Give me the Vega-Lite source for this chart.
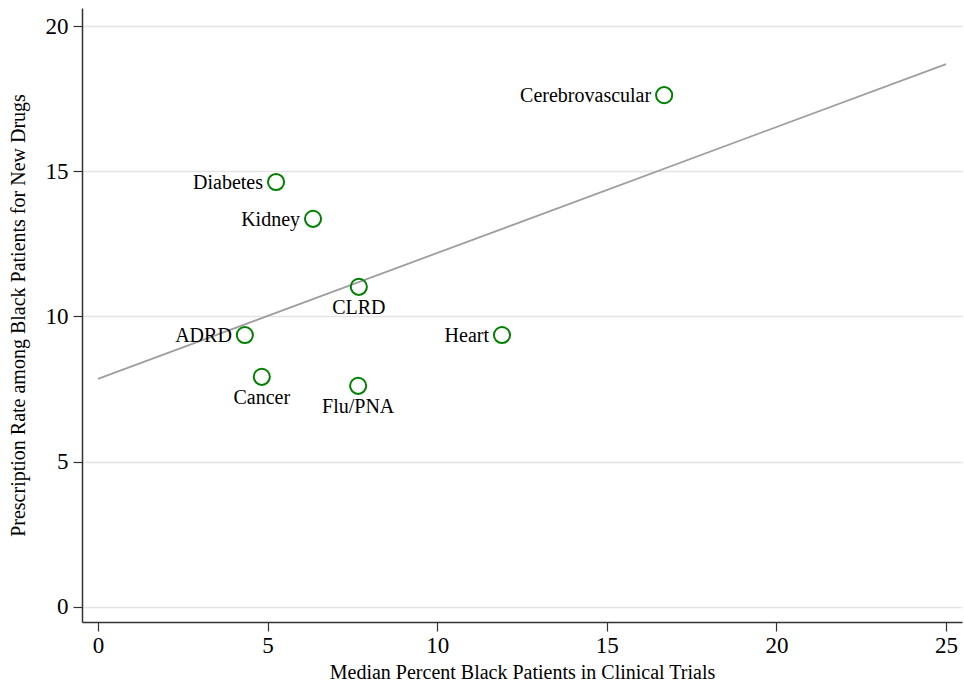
{
  "$schema": "https://vega.github.io/schema/vega-lite/v6.json",
  "width": 880,
  "height": 614,
  "autosize": {"type": "none"},
  "padding": {"left": 82, "top": 8, "right": 2, "bottom": 64},
  "background": "white",
  "config": {
    "view": {"stroke": null},
    "font": "Liberation Serif",
    "axis": {
      "labelFont": "Liberation Serif",
      "titleFont": "Liberation Serif",
      "labelFontSize": 23,
      "titleFontSize": 20,
      "titleFontWeight": "normal",
      "labelColor": "black",
      "titleColor": "black",
      "domainColor": "#333333",
      "tickColor": "#333333",
      "tickSize": 9,
      "domainWidth": 1.5,
      "tickWidth": 1.2,
      "gridColor": "#e4e4e4",
      "gridWidth": 1.5
    }
  },
  "datasets": {
    "pts": [
      {"disease": "Cerebrovascular", "pct": 16.69, "rate": 17.62, "pos": "left"},
      {"disease": "Diabetes", "pct": 5.25, "rate": 14.63, "pos": "left"},
      {"disease": "Kidney", "pct": 6.34, "rate": 13.36, "pos": "left"},
      {"disease": "CLRD", "pct": 7.69, "rate": 11.02, "pos": "below"},
      {"disease": "ADRD", "pct": 4.33, "rate": 9.36, "pos": "left"},
      {"disease": "Heart", "pct": 11.91, "rate": 9.36, "pos": "left"},
      {"disease": "Cancer", "pct": 4.83, "rate": 7.92, "pos": "below"},
      {"disease": "Flu/PNA", "pct": 7.67, "rate": 7.61, "pos": "below"}
    ],
    "fit": [
      {"pct": 0, "rate": 7.85},
      {"pct": 25, "rate": 18.69}
    ]
  },
  "layer": [
    {
      "data": {"name": "fit"},
      "mark": {"type": "line", "color": "#9e9e9e", "strokeWidth": 1.8},
      "encoding": {
        "x": {
          "field": "pct", "type": "quantitative",
          "scale": {"domain": [-0.47, 25.47], "nice": false, "zero": false},
          "axis": {"values": [0, 5, 10, 15, 20, 25], "grid": false, "title": "Median Percent Black Patients in Clinical Trials", "titlePadding": 5, "labelPadding": 3}
        },
        "y": {
          "field": "rate", "type": "quantitative",
          "scale": {"domain": [-0.52, 20.62], "nice": false, "zero": false},
          "axis": {"values": [0, 5, 10, 15, 20], "grid": true, "title": "Prescription Rate among Black Patients for New Drugs", "titlePadding": 17, "labelPadding": 5}
        }
      }
    },
    {
      "data": {"name": "pts"},
      "mark": {"type": "point", "shape": "circle", "filled": false, "color": "#008000", "strokeWidth": 2, "size": 260, "opacity": 1},
      "encoding": {
        "x": {"field": "pct", "type": "quantitative"},
        "y": {"field": "rate", "type": "quantitative"}
      }
    },
    {
      "data": {"name": "pts"},
      "transform": [{"filter": "datum.pos == 'left'"}],
      "mark": {"type": "text", "align": "right", "baseline": "middle", "dx": -13, "dy": 1, "fontSize": 20, "font": "Liberation Serif", "color": "black"},
      "encoding": {
        "x": {"field": "pct", "type": "quantitative"},
        "y": {"field": "rate", "type": "quantitative"},
        "text": {"field": "disease"}
      }
    },
    {
      "data": {"name": "pts"},
      "transform": [{"filter": "datum.pos == 'below'"}],
      "mark": {"type": "text", "align": "center", "baseline": "top", "dy": 11, "fontSize": 20, "font": "Liberation Serif", "color": "black"},
      "encoding": {
        "x": {"field": "pct", "type": "quantitative"},
        "y": {"field": "rate", "type": "quantitative"},
        "text": {"field": "disease"}
      }
    }
  ]
}
